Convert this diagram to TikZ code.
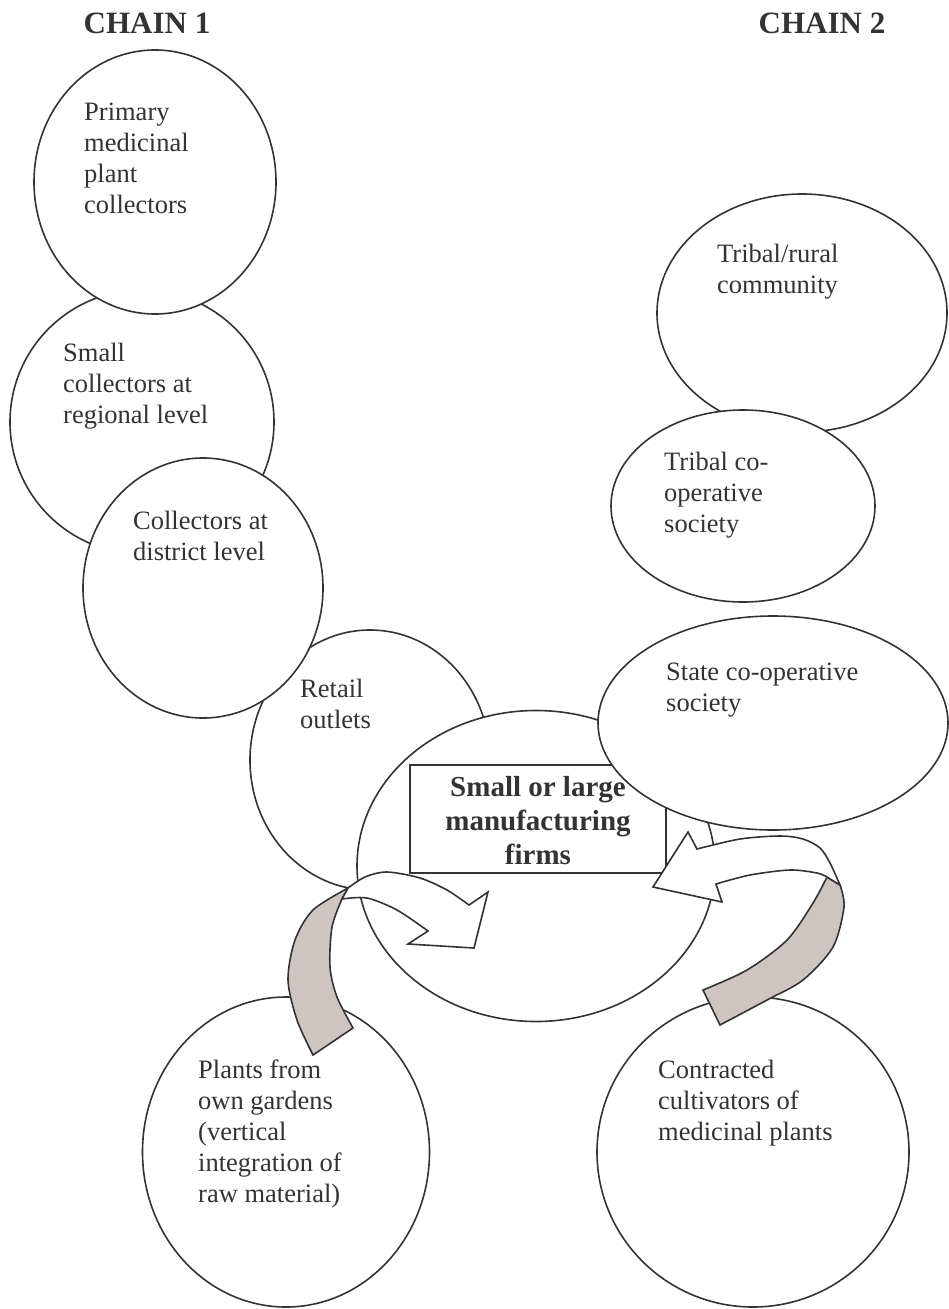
\documentclass[tikz,border=0pt]{standalone}
\usepackage{fontspec}
\setmainfont{Liberation Serif}
\usetikzlibrary{shapes.geometric}
\definecolor{ink}{RGB}{51,51,51}
\definecolor{bandgray}{RGB}{204,197,194}
\tikzset{
  ell/.style={ellipse, draw=ink, line width=1.6pt, fill=white, inner sep=0pt, outer sep=0pt},
  lbl/.style={anchor=base west, inner sep=0pt, align=left, text=ink, font=\fontsize{26.5}{31}\selectfont},
  ttl/.style={anchor=base, inner sep=0pt, text=ink, font=\bfseries\fontsize{31}{35}\selectfont},
  firmtxt/.style={anchor=base, inner sep=0pt, align=center, text=ink, font=\bfseries\fontsize{29}{34}\selectfont},
  band/.style={draw=ink, line width=1.6pt, line join=miter, fill=white},
  grayband/.style={draw=ink, line width=1.6pt, line join=miter, fill=bandgray},
}
\begin{document}
\begin{tikzpicture}[x=1pt,y=-1pt]
\useasboundingbox[fill=white] (0,0) rectangle (948,1309);

% titles
\node[ttl] (chain1) at (147,33) {CHAIN 1};
\node[ttl] (chain2) at (822,33) {CHAIN 2};

% chain 1 circles
\node[ell, minimum width=264pt, minimum height=264pt] (small) at (142,422) {};
\node[ell, minimum width=242pt, minimum height=264pt] (primary) at (155,182) {};
\node[ell, minimum width=240pt, minimum height=260pt] (retail) at (370,760) {};
\node[ell, minimum width=240pt, minimum height=260pt] (district) at (203,588) {};

% firms
\node[ell, minimum width=358pt, minimum height=311pt] (firms) at (536,866) {};
\node[draw=ink, line width=1.6pt, fill=white, minimum width=256pt, minimum height=108pt, inner sep=0pt] (firmbox) at (538,819) {};

% chain 2
\node[ell, minimum width=350pt, minimum height=214pt] (state) at (773,723) {};
\node[ell, minimum width=290pt, minimum height=238pt] (tribal) at (802,313) {};
\node[ell, minimum width=264pt, minimum height=192pt] (tribalcoop) at (743,506) {};

% bottom circles
\node[ell, minimum width=287pt, minimum height=310pt] (plants) at (286,1152) {};
\node[ell, minimum width=312pt, minimum height=310pt] (contract) at (753,1152) {};

% left curved arrow
\draw[grayband] plot[smooth] coordinates {(348,888) (313,910) (295,940) (288,980) (297,1020) (313,1055)}
  -- (353,1028)
  -- plot[smooth] coordinates {(353,1028) (337,997) (330,967) (332,927) (342,899)} -- cycle;
\draw[band] plot[smooth] coordinates {(348,888) (365,877) (387,872) (420,878) (447,890) (469,905)}
  -- (488,892) -- (474,948) -- (408,944) -- (428,931)
  -- plot[smooth] coordinates {(428,931) (397,910) (367,898) (342,899)} -- cycle;

% right curved arrow
\draw[grayband] plot[smooth] coordinates {(840,885) (844,907) (833,947) (803,980) (767,1000) (720,1025)}
  -- (703,990)
  -- plot[smooth] coordinates {(703,990) (747,970) (787,940) (813,903) (827,877)} -- cycle;
\draw[band] plot[smooth] coordinates {(840,885) (830,863) (820,848) (803,839) (780,836) (740,839) (697,849)}
  -- (688,832) -- (653,887) -- (722,902) -- (716,884)
  -- plot[smooth] coordinates {(716,884) (750,875) (790,870) (817,873) (827,877)} -- cycle;

% labels (anchored at the baseline of the last line)
\node[lbl] (primaryT) at (84,213) {Primary\\medicinal\\plant\\collectors};
\node[lbl] (smallT) at (63,423) {Small\\collectors at\\regional level};
\node[lbl] (districtT) at (133,560) {Collectors at\\district level};
\node[lbl] (retailT) at (300,728) {Retail\\outlets};
\node[firmtxt] (firmsT) at (538,864) {Small or large\\manufacturing\\firms};
\node[lbl] (tribalT) at (717,293) {Tribal/rural\\community};
\node[lbl] (tribalcoopT) at (664,532) {Tribal co-\\operative\\society};
\node[lbl] (stateT) at (666,711) {State co-operative\\society};
\node[lbl] (plantsT) at (198,1202) {Plants from\\own gardens\\(vertical\\integration of\\raw material)};
\node[lbl] (contractT) at (658,1140) {Contracted\\cultivators of\\medicinal plants};
\end{tikzpicture}
\end{document}
